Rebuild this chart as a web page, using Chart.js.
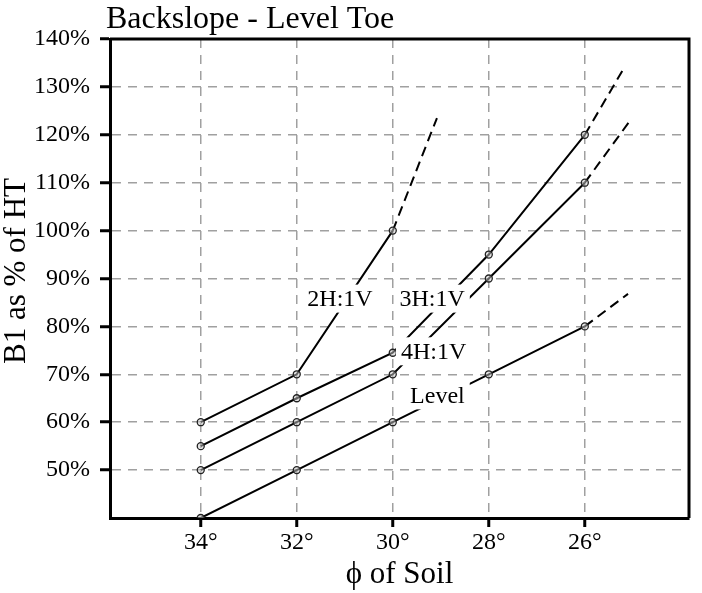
<!DOCTYPE html>
<html>
<head>
<meta charset="utf-8">
<script src="https://cdn.jsdelivr.net/npm/chart.js@4/dist/chart.umd.min.js"></script>
<style>
  html, body { margin: 0; padding: 0; background: #fff; }
  canvas { display: block; }
</style>
</head>
<body>
<canvas id="c" width="702" height="593"></canvas>
<script>
// ---- data ----
const phiTicks = [34, 32, 30, 28, 26];
const yTicks = [40, 50, 60, 70, 80, 90, 100, 110, 120, 130, 140];

const levelPhi = [34, 32, 30, 28, 26, 25.1];
const levelVal = [40, 50, 60, 70, 80, 86.8];

const h4Phi = [34, 32, 30, 28, 26, 25.07];
const h4Val = [50, 60, 70, 90, 110, 122.8];

const h3Phi = [34, 32, 30, 28, 26, 25.21];
const h3Val = [55, 65, 74.5, 95, 120, 133.5];

const h2Phi = [34, 32, 30, 29.08];
const h2Val = [60, 70, 100, 123.5];

const labelText = ['2H:1V', '3H:1V', '4H:1V', 'Level'];
const labelPhi = [31.1, 29.18, 29.15, 29.07];
const labelVal = [85.8, 85.8, 74.8, 65.6];

const SERIF = '"Liberation Serif", "DejaVu Serif", serif';

function pts(xs, ys) { return xs.map((x, i) => ({ x: x, y: ys[i] })); }

function mkSet(name, xs, ys) {
  const n = xs.length;
  return {
    label: name,
    data: pts(xs, ys),
    borderColor: '#000',
    borderWidth: 2,
    pointRadius: xs.map((_, i) => i === n - 1 ? 0 : 3.5),
    pointBorderColor: '#222',
    pointBackgroundColor: 'rgba(200,200,200,0.5)',
    pointBorderWidth: 1.3,
    tension: 0,
    segment: {
      borderDash: ctx => ctx.p1DataIndex === n - 1 ? [10, 6] : undefined
    }
  };
}

const decor = {
  id: 'decor',
  afterDatasetsDraw(chart) {
    const { ctx, scales } = chart;
    ctx.save();
    ctx.font = '24px ' + SERIF;
    ctx.textAlign = 'center';
    ctx.textBaseline = 'middle';
    labelText.forEach((t, i) => {
      const x = scales.x.getPixelForValue(labelPhi[i]);
      const y = scales.y.getPixelForValue(labelVal[i]);
      const w = ctx.measureText(t).width;
      ctx.fillStyle = '#fff';
      ctx.fillRect(x - w / 2 - 5, y - 14, w + 10, 28);
      ctx.fillStyle = '#000';
      ctx.fillText(t, x, y + 1);
    });
    ctx.restore();
  },
  afterDraw(chart) {
    const { ctx, chartArea: a } = chart;
    ctx.save();
    ctx.strokeStyle = '#000';
    ctx.lineWidth = 3;
    ctx.beginPath();
    ctx.moveTo(a.left, a.top);
    ctx.lineTo(a.right, a.top);
    ctx.lineTo(a.right, a.bottom);
    ctx.stroke();
    ctx.fillStyle = '#000';
    ctx.font = '32px ' + SERIF;
    ctx.textAlign = 'left';
    ctx.textBaseline = 'alphabetic';
    ctx.fillText('Backslope - Level Toe', 106, 28);
    // y axis title
    ctx.font = '31px ' + SERIF;
    ctx.textAlign = 'center';
    ctx.textBaseline = 'middle';
    ctx.translate(17, 271);
    ctx.rotate(-Math.PI / 2);
    ctx.fillText('B1 as % of HT', 0, 0);
    ctx.restore();
  }
};

new Chart(document.getElementById('c'), {
  type: 'line',
  data: {
    datasets: [
      mkSet('Level', levelPhi, levelVal),
      mkSet('4H:1V', h4Phi, h4Val),
      mkSet('3H:1V', h3Phi, h3Val),
      mkSet('2H:1V', h2Phi, h2Val)
    ]
  },
  options: {
    responsive: false,
    animation: false,
    layout: { padding: { left: 0, right: 13, top: 39, bottom: 0 } },
    plugins: { legend: { display: false }, tooltip: { enabled: false }, title: { display: false } },
    scales: {
      x: {
        type: 'linear',
        reverse: true,
        min: 23.83,
        max: 35.89,
        afterBuildTicks: s => { s.ticks = phiTicks.map(v => ({ value: v })); },
        afterFit: s => { s.height = 75; },
        ticks: {
          callback: v => v + '°',
          color: '#000',
          font: { family: SERIF, size: 24 },
          padding: 1,
          maxRotation: 0,
          autoSkip: false
        },
        grid: {
          color: '#a0a0a0',
          lineWidth: 1.5,
          tickLength: 9,
          tickColor: '#000',
          tickWidth: 3,
          tickBorderDash: []
        },
        border: { display: true, color: '#000', width: 3, dash: [9, 7] },
        title: {
          display: true,
          text: 'ϕ of Soil',
          color: '#000',
          font: { family: SERIF, size: 31 },
          padding: { top: 0, bottom: 0 }
        }
      },
      y: {
        type: 'linear',
        min: 40,
        max: 140,
        afterBuildTicks: s => { s.ticks = yTicks.map(v => ({ value: v })); },
        afterFit: s => { s.width = 110; },
        ticks: {
          callback: v => v === 40 ? '' : v + '%',
          color: '#000',
          font: { family: SERIF, size: 24 },
          padding: 10
        },
        grid: {
          color: '#a0a0a0',
          lineWidth: 1.5,
          tickLength: 10,
          tickColor: c => (c.tick && c.tick.value === 40) ? 'rgba(0,0,0,0)' : '#000',
          tickWidth: 3,
          tickBorderDash: []
        },
        border: { display: true, color: '#000', width: 3, dash: [9, 7] },
        title: { display: false }
      }
    }
  },
  plugins: [decor]
});
</script>
</body>
</html>
